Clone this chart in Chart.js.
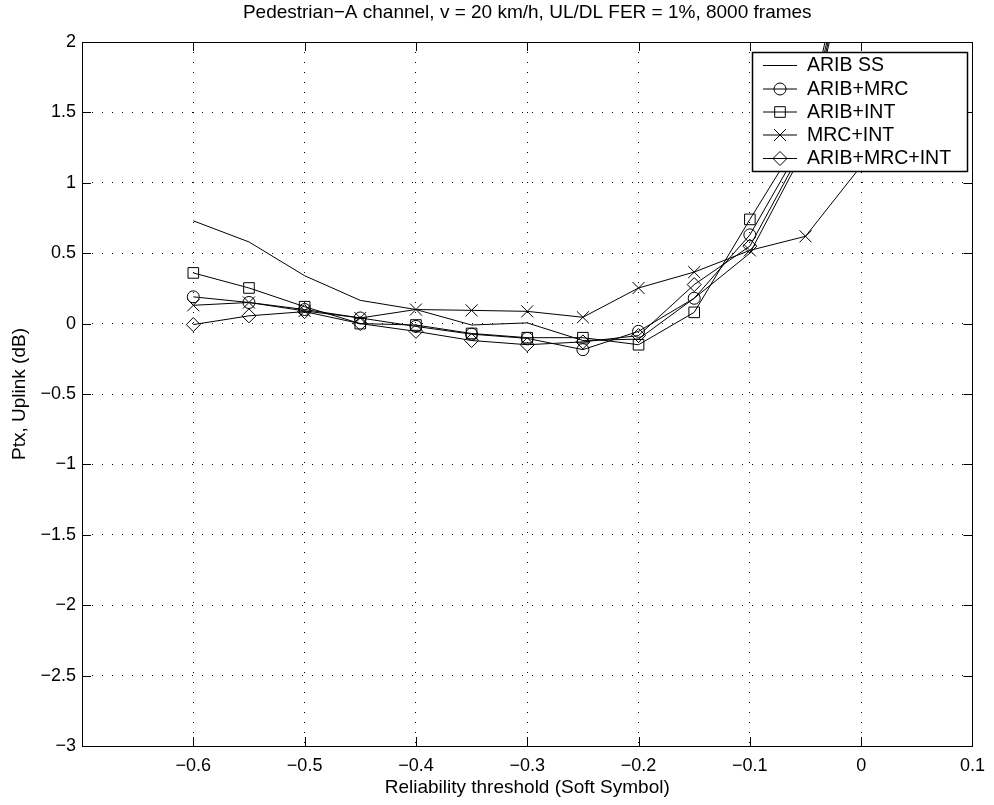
<!DOCTYPE html>
<html><head><meta charset="utf-8">
<script src="https://cdn.jsdelivr.net/npm/chart.js@4/dist/chart.umd.min.js"></script>
<style>html,body{margin:0;padding:0;background:#fff}#wrap{width:994px;height:805px}</style>
</head><body><div id="wrap"><canvas id="c" width="994" height="805"></canvas></div>
<script>
// ---- data ----
const thresholds = [-0.6, -0.55, -0.5, -0.45, -0.4, -0.35, -0.3, -0.25, -0.2, -0.15, -0.1, -0.05, 0];
const aribSS      = [0.73, 0.58, 0.34, 0.165, 0.10, -0.01, 0.005, -0.12, -0.11, 0.18, 0.50, 1.25, 3.0];
const aribMRC     = [0.19, 0.15, 0.10, 0.04, -0.02, -0.075, -0.105, -0.185, -0.055, 0.18, 0.63, 1.32, 3.1];
const aribINT     = [0.36, 0.253, 0.12, 0.0, -0.01, -0.07, -0.10, -0.10, -0.15, 0.08, 0.74, 1.38, 3.15];
const mrcINT      = [0.13, 0.15, 0.09, 0.04, 0.10, 0.094, 0.087, 0.045, 0.253, 0.366, 0.52, 0.62, 1.12];
const aribMRCINT  = [-0.007, 0.055, 0.085, 0.0, -0.055, -0.12, -0.15, -0.13, -0.085, 0.277, 0.55, 1.28, 3.05];
const seriesLabels = ['ARIB SS', 'ARIB+MRC', 'ARIB+INT', 'MRC+INT', 'ARIB+MRC+INT'];
const xTickValues = [-0.6, -0.5, -0.4, -0.3, -0.2, -0.1, 0, 0.1];
const yTickValues = [2, 1.5, 1, 0.5, 0, -0.5, -1, -1.5, -2, -2.5, -3];
const chartTitle = 'Pedestrian\u2212A channel, v = 20 km/h, UL/DL FER = 1%, 8000 frames';
const xAxisTitle = 'Reliability threshold (Soft Symbol)';
const yAxisTitle = 'Ptx, Uplink (dB)';

const FONT = '"Liberation Sans", Arial, Helvetica, sans-serif';
const seriesValues = [aribSS, aribMRC, aribINT, mrcINT, aribMRCINT];
const styles = [
  {pointStyle: false, radius: 0},
  {pointStyle: 'circle', radius: 6},
  {pointStyle: 'rect', radius: 7.5},
  {pointStyle: 'crossRot', radius: 8.5},
  {pointStyle: 'rectRot', radius: 7}
];
const fmt = v => { const r = Math.round(v * 100) / 100; return String(r).replace('-', '\u2212'); };

const datasets = seriesValues.map((vals, i) => ({
  label: seriesLabels[i],
  data: thresholds.map((x, j) => ({x: x, y: vals[j]})),
  showLine: true,
  borderColor: '#000',
  borderWidth: 1,
  backgroundColor: 'rgba(0,0,0,0)',
  pointStyle: styles[i].pointStyle || 'circle',
  pointRadius: styles[i].radius,
  pointBorderColor: '#000',
  pointBackgroundColor: 'rgba(0,0,0,0)',
  pointBorderWidth: 1,
  tension: 0,
  clip: 0
}));

const framePlugin = {
  id: 'frame',
  afterDraw(chart) {
    const ctx = chart.ctx, a = chart.chartArea;
    const xs = chart.scales.x, ys = chart.scales.y;
    ctx.save();
    ctx.strokeStyle = '#000'; ctx.lineWidth = 1;
    ctx.strokeRect(Math.round(a.left) + 0.5, Math.round(a.top) + 0.5, Math.round(a.right - a.left), Math.round(a.bottom - a.top));
    const TL = 9;
    ctx.beginPath();
    xTickValues.forEach(v => {
      const px = Math.round(xs.getPixelForValue(v)) + 0.5;
      ctx.moveTo(px, a.bottom); ctx.lineTo(px, a.bottom - TL);
      ctx.moveTo(px, a.top); ctx.lineTo(px, a.top + TL);
    });
    yTickValues.forEach(v => {
      const py = Math.round(ys.getPixelForValue(v)) + 0.5;
      ctx.moveTo(a.left, py); ctx.lineTo(a.left + TL, py);
      ctx.moveTo(a.right, py); ctx.lineTo(a.right - TL, py);
    });
    ctx.stroke();
    ctx.fillStyle = '#000';
    ctx.font = '19px ' + FONT;
    ctx.textAlign = 'center'; ctx.textBaseline = 'middle';
    ctx.fillText(chartTitle, (a.left + a.right) / 2, 13);
    const L = 752, T = 52, R = 967, B = 171;
    ctx.fillStyle = '#fff';
    ctx.fillRect(L, T, R - L, B - T);
    ctx.lineWidth = 1.5;
    ctx.strokeRect(L + 0.5, T + 0.5, R - L, B - T);
    ctx.lineWidth = 1;
    const rowY = [65, 88.5, 111.5, 134.5, 158];
    seriesLabels.forEach((lab, i) => {
      const y = rowY[i];
      ctx.beginPath(); ctx.moveTo(763, y + 0.5); ctx.lineTo(797, y + 0.5); ctx.stroke();
      if (styles[i].pointStyle) {
        ctx.fillStyle = 'rgba(0,0,0,0)';
        Chart.helpers.drawPoint(ctx, {pointStyle: styles[i].pointStyle, radius: styles[i].radius, rotation: 0, borderWidth: 1}, 780, y + 0.5);
      }
      ctx.fillStyle = '#000';
      ctx.font = '19.5px ' + FONT;
      ctx.textAlign = 'left'; ctx.textBaseline = 'middle';
      ctx.fillText(lab, 807, y + 1);
    });
    ctx.restore();
  }
};

new Chart(document.getElementById('c'), {
  type: 'scatter',
  data: {datasets},
  options: {
    responsive: false,
    animation: false,
    devicePixelRatio: 1,
    layout: {padding: {top: 42, right: 19, left: 0, bottom: 0}},
    plugins: {legend: {display: false}, tooltip: {enabled: false}, title: {display: false}},
    scales: {
      x: {
        type: 'linear', min: -0.7, max: 0.1,
        afterBuildTicks: s => { s.ticks = [-0.7].concat(xTickValues).map(v => ({value: v})); },
        afterFit: s => { s.height = 59; },
        ticks: {
          callback: v => (Math.abs(v + 0.7) < 1e-9 ? '' : fmt(v)),
          font: {family: FONT, size: 18}, color: '#000', padding: 9, maxRotation: 0, autoSkip: false
        },
        grid: {color: '#000', lineWidth: 1, drawTicks: false},
        border: {display: false, dash: [1, 9]},
        title: {display: true, text: xAxisTitle, font: {family: FONT, size: 19}, color: '#000', padding: {top: 0, bottom: 6}}
      },
      y: {
        type: 'linear', min: -3, max: 2,
        afterBuildTicks: s => { s.ticks = yTickValues.slice().reverse().map(v => ({value: v})); },
        afterFit: s => { s.width = 82; },
        ticks: {
          callback: v => fmt(v),
          font: {family: FONT, size: 18}, color: '#000', padding: 6, autoSkip: false
        },
        grid: {color: '#000', lineWidth: 1, drawTicks: false},
        border: {display: false, dash: [1, 9]},
        title: {display: true, text: yAxisTitle, font: {family: FONT, size: 19}, color: '#000', padding: {top: 8.5, bottom: 8.5}}
      }
    }
  },
  plugins: [framePlugin]
});
</script></body></html>
